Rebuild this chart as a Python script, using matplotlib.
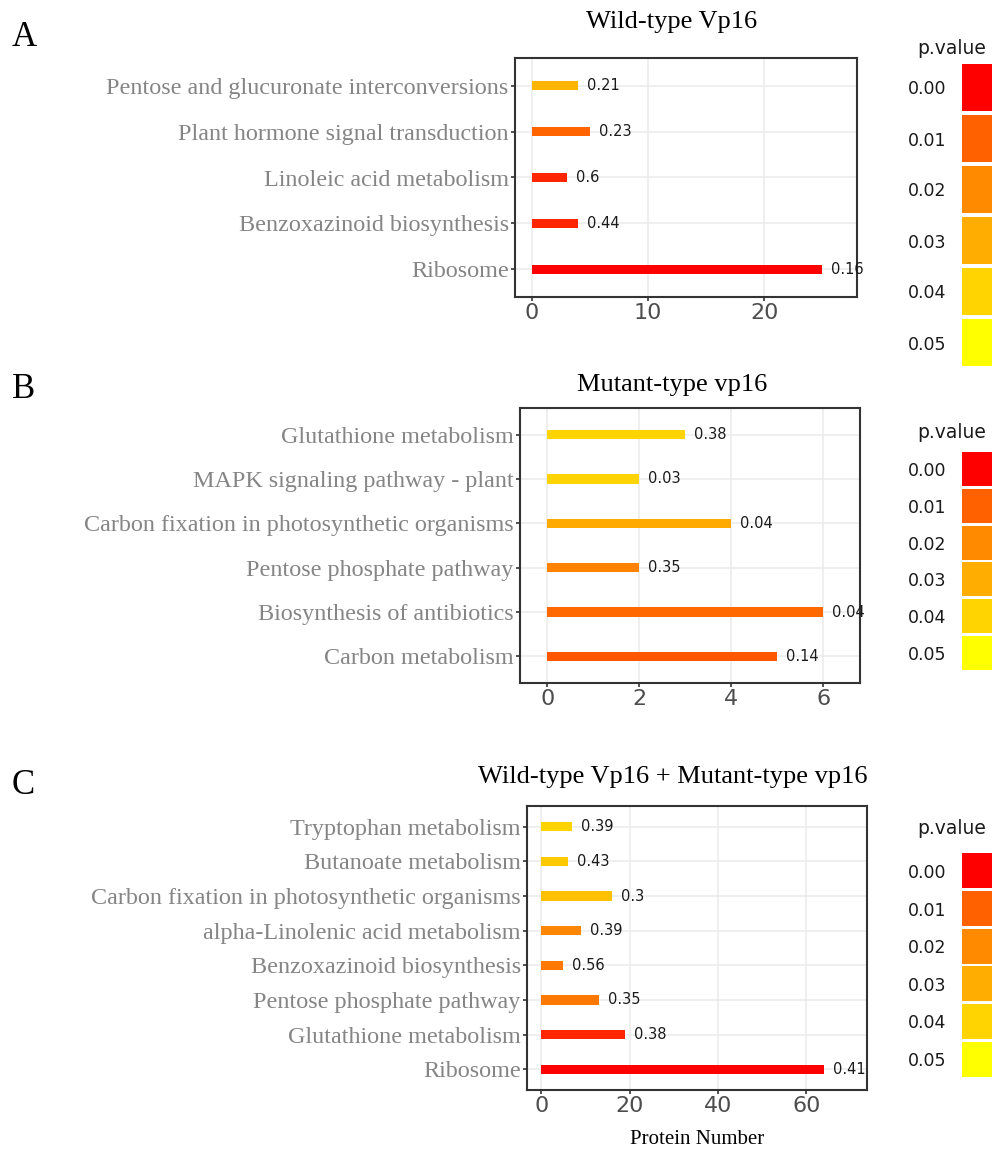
import matplotlib
matplotlib.use("Agg")
import matplotlib.pyplot as plt
import numpy as np
from matplotlib.colors import LinearSegmentedColormap

# ---- data (bottom to top, as drawn) ----
a_terms = ["Ribosome", "Benzoxazinoid biosynthesis", "Linoleic acid metabolism",
           "Plant hormone signal transduction", "Pentose and glucuronate interconversions"]
a_counts = [25, 4, 3, 5, 4]
a_ratio = [0.16, 0.44, 0.6, 0.23, 0.21]
a_pvalue = [0.0, 0.004, 0.004, 0.011, 0.032]

b_terms = ["Carbon metabolism", "Biosynthesis of antibiotics", "Pentose phosphate pathway",
           "Carbon fixation in photosynthetic organisms", "MAPK signaling pathway - plant",
           "Glutathione metabolism"]
b_counts = [5, 6, 2, 4, 2, 3]
b_ratio = [0.14, 0.04, 0.35, 0.04, 0.03, 0.38]
b_pvalue = [0.009, 0.012, 0.018, 0.029, 0.04, 0.04]

c_terms = ["Ribosome", "Glutathione metabolism", "Pentose phosphate pathway",
           "Benzoxazinoid biosynthesis", "alpha-Linolenic acid metabolism",
           "Carbon fixation in photosynthetic organisms", "Butanoate metabolism",
           "Tryptophan metabolism"]
c_counts = [64, 19, 13, 5, 9, 16, 6, 7]
c_ratio = [0.41, 0.38, 0.35, 0.56, 0.39, 0.3, 0.43, 0.39]
c_pvalue = [0.0, 0.004, 0.016, 0.016, 0.019, 0.035, 0.037, 0.04]

legend_levels = [0.00, 0.01, 0.02, 0.03, 0.04, 0.05]
legend_colors = ["#FF0000", "#FF6000", "#FF8A00", "#FFAD00", "#FFD400", "#FFFF00"]

cmap = LinearSegmentedColormap.from_list("pv", legend_colors)

W, H = 992, 1156
fig = plt.figure(figsize=(W / 100, H / 100), dpi=100)


def box(left, top, right, bottom):
    return [left / W, 1 - bottom / H, (right - left) / W, (bottom - top) / H]


def panel(rect, terms, counts, ratio, pvals, xlim, xticks, bar_h):
    ax = fig.add_axes(rect)
    y = np.arange(len(terms))
    cols = [cmap(p / 0.05) for p in pvals]
    ax.barh(y, counts, height=bar_h, color=cols, zorder=3)
    for yi, c, r in zip(y, counts, ratio):
        ax.annotate("{:g}".format(r), (c, yi), xytext=(6.5, 0), textcoords="offset points",
                    va="center", ha="left", fontsize=10.5, color="#1a1a1a",
                    family="DejaVu Sans", zorder=4)
    ax.set_xlim(*xlim)
    ax.set_ylim(-0.6, len(terms) - 0.4)
    ax.set_xticks(xticks)
    ax.set_yticks(y)
    ax.set_yticklabels(terms, family="Liberation Serif", fontsize=17.4, color="#858585")
    for lab in ax.get_xticklabels():
        lab.set_fontsize(16)
        lab.set_color("#4D4D4D")
        lab.set_family("DejaVu Sans")
    ax.tick_params(length=3, width=1.2, color="#333333", pad=1.5)
    ax.grid(True, color="#EBEBEB", linewidth=1.1, zorder=0)
    ax.set_axisbelow(True)
    for s in ax.spines.values():
        s.set_color("#333333")
        s.set_linewidth(1.5)
    return ax


def legend(rect, title_y):
    lg = fig.add_axes(rect)
    lg.barh(np.arange(6), 1, height=0.93, color=legend_colors)
    lg.set_ylim(5.5, -0.5)
    lg.set_xlim(0, 1)
    lg.set_yticks(np.arange(6))
    lg.set_yticklabels(["{:.2f}".format(v) for v in legend_levels],
                       fontsize=12.5, color="#1a1a1a")
    lg.tick_params(length=0, pad=11)
    lg.set_xticks([])
    for s in lg.spines.values():
        s.set_visible(False)
    fig.text(952 / W, 1 - title_y / H, "p.value", ha="center", va="center",
             fontsize=13.5, color="#1a1a1a")


panel(box(515, 58, 857, 297), a_terms, a_counts, a_ratio, a_pvalue,
      (-1.45, 28.0), [0, 10, 20], 0.2)
panel(box(520, 408, 860, 683), b_terms, b_counts, b_ratio, b_pvalue,
      (-0.59, 6.8), [0, 2, 4, 6], 0.21)
axc = panel(box(527, 806, 867, 1090), c_terms, c_counts, c_ratio, c_pvalue,
            (-3.2, 73.7), [0, 20, 40, 60], 0.27)
axc.set_xlabel("Protein Number", family="Liberation Serif", fontsize=15, labelpad=10)

legend(box(962, 62, 1000, 368), 49)
legend(box(962, 451, 1000, 671), 432)
legend(box(962, 852, 1000, 1078), 828)

serif = "Liberation Serif"
fig.text(672 / W, 1 - 22 / H, "Wild-type Vp16", ha="center", va="center",
         family=serif, fontsize=19)
fig.text(672 / W, 1 - 385 / H, "Mutant-type vp16", ha="center", va="center",
         family=serif, fontsize=19)
fig.text(673 / W, 1 - 777 / H, "Wild-type Vp16 + Mutant-type vp16", ha="center",
         va="center", family=serif, fontsize=19)
fig.text(12 / W, 1 - 38 / H, "A", ha="left", va="center", family=serif, fontsize=25)
fig.text(12 / W, 1 - 389 / H, "B", ha="left", va="center", family=serif, fontsize=25)
fig.text(12 / W, 1 - 786 / H, "C", ha="left", va="center", family=serif, fontsize=25)

fig.savefig("out.png", dpi=100)
